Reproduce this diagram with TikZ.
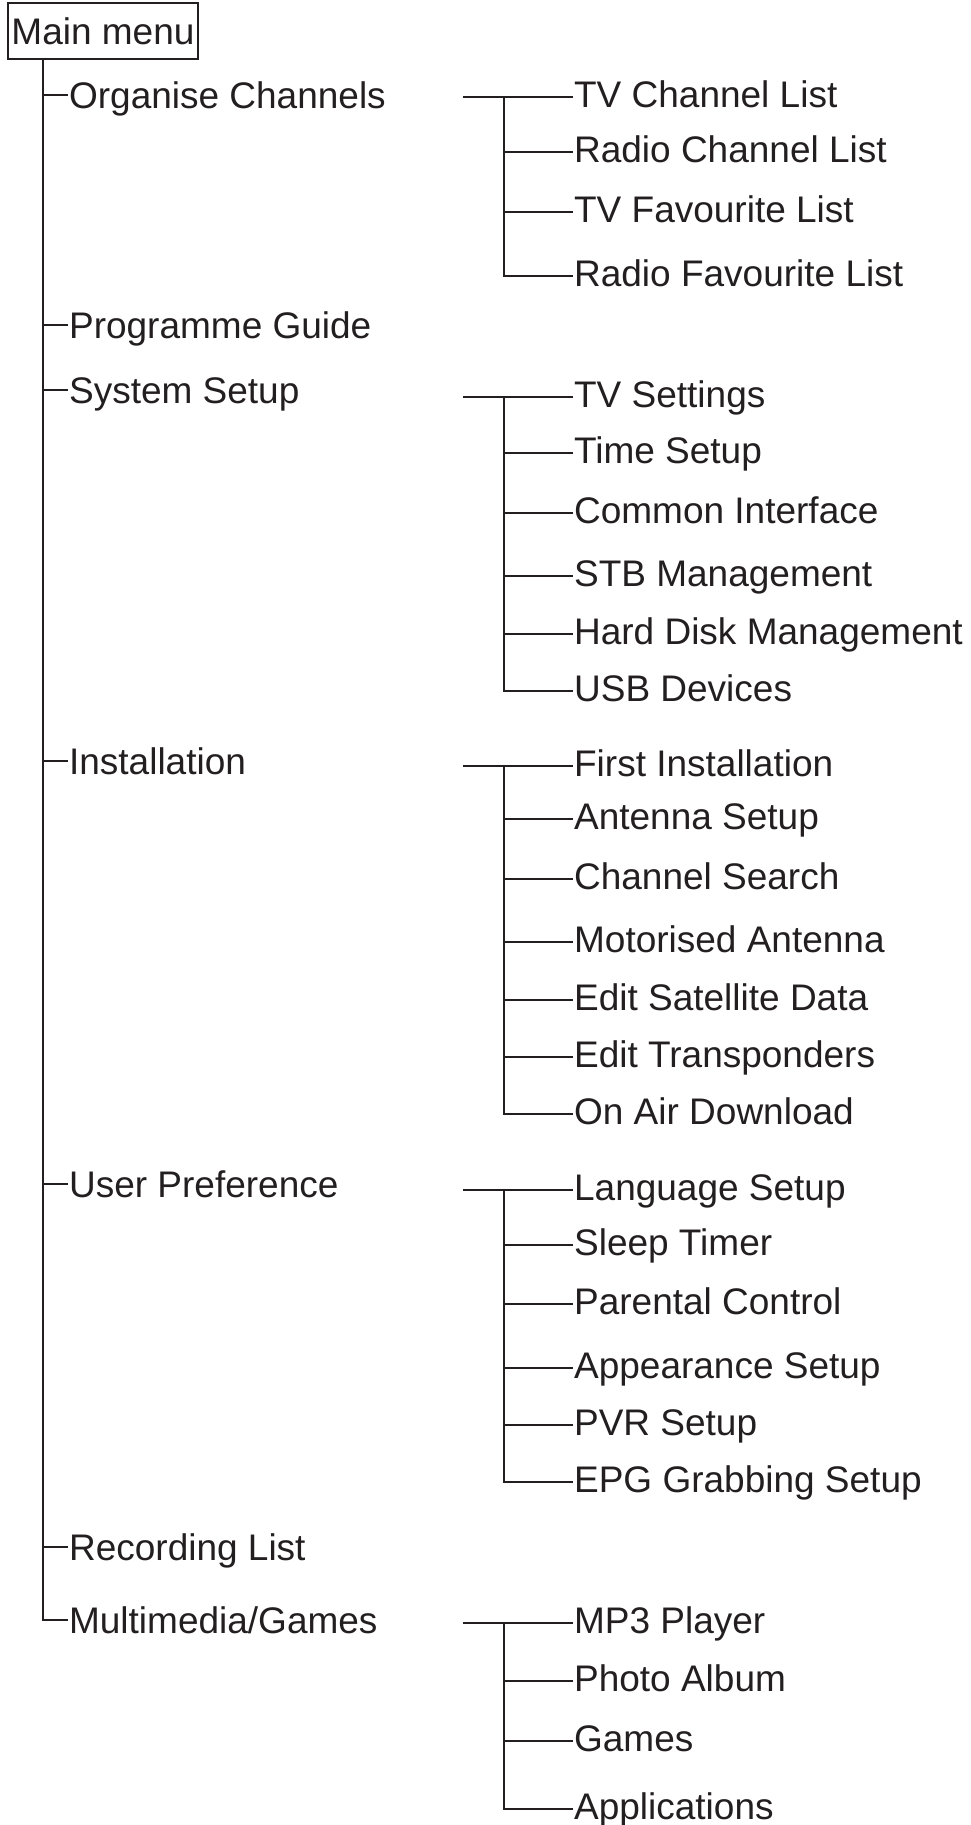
\documentclass[tikz,border=0pt]{standalone}
\usepackage{fontspec}
\setmainfont{Liberation Sans}
\usetikzlibrary{calc}
\definecolor{ink}{HTML}{231F20}

\begin{document}
\begin{tikzpicture}[x=1pt, y=-1pt, line width=2.2pt, draw=ink, text=ink,
  item/.style={anchor=west,inner sep=0pt,text height=26.5pt,text depth=0pt,
    font=\fontsize{37pt}{44pt}\selectfont},
  subitem/.style={item,text height=20.5pt},
  root/.style={item,anchor=center,draw,minimum width=190pt,minimum height=56pt}]
  \useasboundingbox (0,0) rectangle (970,1825);
  \node[root] (menu) at (103,31) {Main menu};
  \coordinate (trunk) at (43,0);
  \coordinate (spine) at (504,0);

  \node[item] (org) at (68,95) {Organise Channels};
  \node[item] (prog) at (68,325) {Programme Guide};
  \node[item] (sys) at (68,390) {System Setup};
  \node[item] (inst) at (68,761) {Installation};
  \node[item] (user) at (68,1184) {User Preference};
  \node[item] (rec) at (68,1547) {Recording List};
  \node[item] (multi) at (68,1620) {Multimedia/Games};

  \node[subitem] (tvch) at (573,97) {TV Channel List};
  \node[subitem] (radch) at (573,152) {Radio Channel List};
  \node[subitem] (tvfav) at (573,212) {TV Favourite List};
  \node[subitem] (radfav) at (573,276) {Radio Favourite List};

  \node[subitem] (tvset) at (573,397) {TV Settings};
  \node[subitem] (time) at (573,453) {Time Setup};
  \node[subitem] (ci) at (573,513) {Common Interface};
  \node[subitem] (stb) at (573,576) {STB Management};
  \node[subitem] (hdd) at (573,634) {Hard Disk Management};
  \node[subitem] (usb) at (573,691) {USB Devices};

  \node[subitem] (first) at (573,766) {First Installation};
  \node[subitem] (ant) at (573,819) {Antenna Setup};
  \node[subitem] (search) at (573,879) {Channel Search};
  \node[subitem] (motor) at (573,942) {Motorised Antenna};
  \node[subitem] (sat) at (573,1000) {Edit Satellite Data};
  \node[subitem] (tp) at (573,1057) {Edit Transponders};
  \node[subitem] (ota) at (573,1114) {On Air Download};

  \node[subitem] (lang) at (573,1190) {Language Setup};
  \node[subitem] (sleep) at (573,1245) {Sleep Timer};
  \node[subitem] (parent) at (573,1304) {Parental Control};
  \node[subitem] (look) at (573,1368) {Appearance Setup};
  \node[subitem] (pvr) at (573,1425) {PVR Setup};
  \node[subitem] (epg) at (573,1482) {EPG Grabbing Setup};

  \node[subitem] (mp3) at (573,1623) {MP3 Player};
  \node[subitem] (photo) at (573,1681) {Photo Album};
  \node[subitem] (games) at (573,1741) {Games};
  \node[subitem] (apps) at (573,1809) {Applications};

  \draw (trunk |- menu.south) |- (multi.west);
  \foreach \n in {org,prog,sys,inst,user,rec}
    \draw (trunk |- \n.west) -- (\n.west);

  \draw (463,97) -- (tvch.west);
  \draw (spine |- tvch.west) |- (radfav.west);
  \foreach \n in {radch,tvfav}
    \draw (spine |- \n.west) -- (\n.west);

  \draw (463,397) -- (tvset.west);
  \draw (spine |- tvset.west) |- (usb.west);
  \foreach \n in {time,ci,stb,hdd}
    \draw (spine |- \n.west) -- (\n.west);

  \draw (463,766) -- (first.west);
  \draw (spine |- first.west) |- (ota.west);
  \foreach \n in {ant,search,motor,sat,tp}
    \draw (spine |- \n.west) -- (\n.west);

  \draw (463,1190) -- (lang.west);
  \draw (spine |- lang.west) |- (epg.west);
  \foreach \n in {sleep,parent,look,pvr}
    \draw (spine |- \n.west) -- (\n.west);

  \draw (463,1623) -- (mp3.west);
  \draw (spine |- mp3.west) |- (apps.west);
  \foreach \n in {photo,games}
    \draw (spine |- \n.west) -- (\n.west);
\end{tikzpicture}
\end{document}
